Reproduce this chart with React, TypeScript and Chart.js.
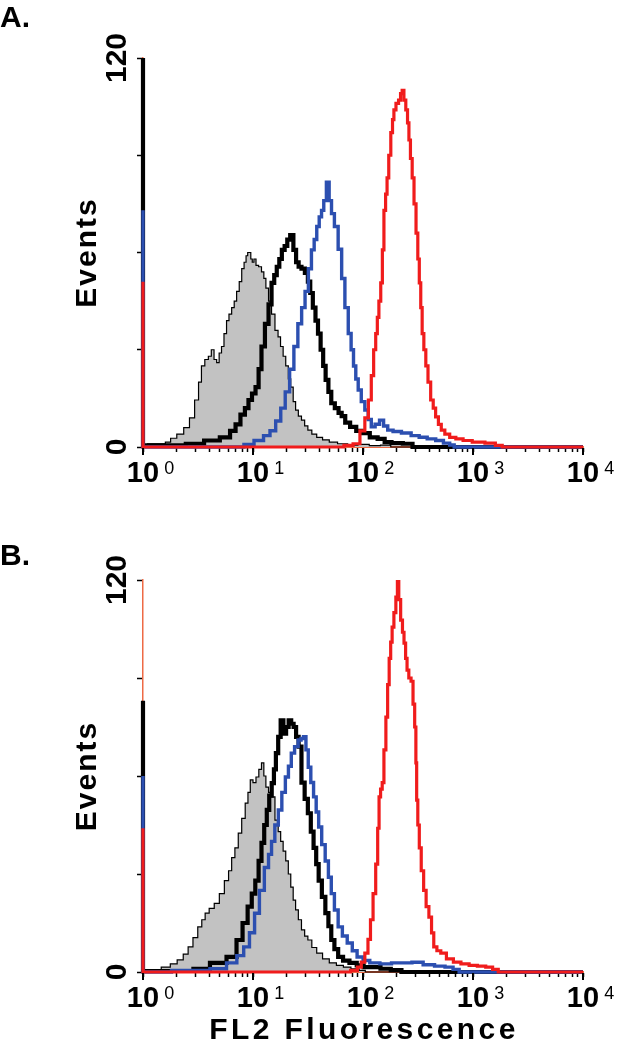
import React, { useEffect, useRef } from "react";
import { Chart, registerables } from "chart.js";

Chart.register(...registerables);

type Pt = [number, number];

// ---- axes / labels ----
const X_TICKS = [
  1, 2, 3, 4, 5, 6, 7, 8, 9,
  10, 20, 30, 40, 50, 60, 70, 80, 90,
  100, 200, 300, 400, 500, 600, 700, 800, 900,
  1000, 2000, 3000, 4000, 5000, 6000, 7000, 8000, 9000,
  10000,
];
const X_LABEL_EXPONENTS = [0, 1, 2, 3, 4];
const Y_TICKS = [0, 30, 60, 90, 120];
const Y_LABELS = [0, 120];
const Y_TITLE = "Events";
const X_TITLE = "FL2 Fluorescence";
const PANEL_LETTERS = ["A.", "B."];

// ---- Panel A histograms: [FL2 value, events] ----
const A_GRAY: Pt[] = [
  [1, 0.5], [1.2, 1], [1.5, 1], [1.7, 1.5], [1.87, 2.7], [2.2, 4], [2.5, 6], [2.8, 9], [3.1, 14.5], [3.3, 20],
  [3.5, 25], [3.8, 27], [4.06, 28], [4.3, 30], [4.55, 27], [4.8, 26], [5.05, 29], [5.3, 31], [5.6, 35], [5.9, 39],
  [6.2, 41], [6.6, 43], [6.9, 45], [7.3, 48], [7.7, 51], [8.1, 55], [8.5, 57], [8.8, 59], [9.1, 60], [9.4, 60],
  [9.7, 58], [10, 57], [10.4, 58], [10.9, 56], [11.6, 55.6], [12.3, 54], [12.8, 52], [13.4, 49], [14.3, 45], [15.2, 41],
  [16.5, 36], [17.3, 34], [18.3, 31], [19.3, 28], [20.4, 25], [21.5, 21], [22.6, 18.5], [23.8, 14], [25, 11.4], [26.7, 9.5],
  [28.5, 8.3], [30.5, 6.5], [32.6, 5.2], [36, 4], [40, 3], [46, 2.2], [53, 1.5], [65, 1], [81, 0.6], [100, 0.8],
  [130, 0.4], [160, 0.6], [200, 0], [10000, 0],
];
const A_BLACK: Pt[] = [
  [1, 300], [1, 0.5], [2, 0.5], [3, 1], [4.3, 2], [5.8, 3], [6.6, 5], [7.3, 7], [8.1, 10], [8.8, 12],
  [9.4, 14.5], [10.2, 16.5], [10.9, 18.5], [11.6, 24], [12.3, 31], [13.4, 38], [14.3, 44], [15.2, 50.6], [16, 53], [16.9, 55.6],
  [17.8, 58], [18.8, 60.8], [20, 62], [21, 64], [22.6, 65.4], [24, 60.8], [25.3, 57], [26.7, 55.6], [28.5, 55], [30.8, 53.7],
  [32.3, 51], [34, 47.5], [36, 43], [38, 39], [40, 35], [42.4, 30], [44.5, 25], [47, 20.7], [50, 17], [53, 13.5],
  [58, 12], [62, 10.5], [66, 9.5], [72, 7.5], [81, 6.2], [93, 5], [108, 4.3], [123, 3], [150, 2.5], [165, 1.5],
  [200, 1.2], [265, 1], [300, 0], [10000, 0],
];
const A_BLUE: Pt[] = [
  [1, 73], [1, 0], [7.6, 0], [9, 0.8], [11.6, 2], [13.4, 3.5], [15.2, 5], [17, 8], [18.8, 12], [20.5, 17],
  [22.6, 24], [24.5, 31], [26.7, 38], [28.7, 43], [30.8, 48], [33, 55], [35, 60.8], [37, 64], [39, 68], [41, 71],
  [43, 73], [45, 76], [48, 81.7], [50.5, 76], [53, 72], [57, 68], [62, 61], [66, 52], [71, 43], [76, 35],
  [80, 30], [84, 25], [88, 21], [93, 17.6], [100, 14], [108, 11.4], [115, 8.5], [123, 6.2], [135, 7], [148, 8.3],
  [160, 6.5], [176, 5.2], [200, 4.8], [250, 4.3], [300, 3.5], [350, 3], [420, 2.5], [500, 2], [580, 1.2], [650, 0.6],
  [700, 0], [10000, 0],
];
const A_RED: Pt[] = [
  [1, 51], [1, 0], [60, 0], [75, 0.5], [88, 1], [100, 5], [108, 9], [116, 14.5], [122, 22], [128, 30],
  [133, 35], [137, 40], [142, 45], [148, 50.6], [152, 60.8], [158, 73], [163, 78], [168, 83], [175, 90], [183, 97],
  [188, 101], [194, 104], [205, 106], [216, 107], [223, 109], [231, 110], [240, 107], [250, 104], [258, 100], [265, 94.7],
  [275, 89], [285, 83], [297, 75], [310, 66], [320, 58], [330, 50.6], [340, 43], [350, 35], [365, 30], [380, 25],
  [400, 20], [425, 14.5], [445, 12], [470, 9.3], [500, 7], [530, 5.2], [580, 4], [650, 3], [750, 2.5], [880, 2],
  [1100, 1.5], [1500, 1.2], [1700, 0.5], [2000, 0], [10000, 0],
];

// ---- Panel B histograms ----
const B_GRAY: Pt[] = [
  [1, 0.5], [1.3, 0.5], [1.65, 1.5], [1.9, 2.5], [2.2, 3.7], [2.45, 5.5], [2.7, 7.7], [3, 10.5], [3.3, 13.8], [3.55, 16],
  [3.8, 18], [4.2, 19.5], [4.7, 21], [5.2, 24], [5.8, 28], [6.2, 31], [6.6, 35], [7.1, 38], [7.6, 42.5], [8.2, 47],
  [8.8, 51.7], [9.2, 55], [9.7, 58.8], [10.3, 58], [11, 59.7], [11.6, 62], [12.3, 64], [12.8, 60], [13.4, 56.6], [14.3, 55],
  [15.2, 53.6], [16.5, 46.5], [17.4, 43], [18.3, 40], [19.3, 37], [20.4, 34], [21.5, 30], [22.6, 26], [23.8, 22], [25, 19],
  [26.7, 16], [28.5, 12.9], [30.5, 11], [32.6, 9.8], [36, 7.5], [40, 5.8], [46, 4], [53, 2.8], [62, 2], [71, 1.5],
  [85, 1], [100, 0.5], [110, 0], [10000, 0],
];
const B_BLACK: Pt[] = [
  [1, 83], [1, 0.3], [2.5, 0.3], [3.3, 1], [5, 2.8], [6.6, 4.6], [7.6, 9.8], [8.5, 15], [9.4, 20], [10.1, 24],
  [10.9, 28], [11.6, 34], [12.3, 39.5], [13, 45], [13.7, 49.6], [14.4, 54], [15.2, 57.8], [15.8, 62], [16.5, 67], [17.4, 72],
  [18.3, 77], [19.5, 73], [20.5, 75], [21.7, 77], [22.8, 76], [24, 75], [25.3, 72], [26.7, 69], [28.5, 58], [30.5, 53],
  [32.6, 48.6], [34.5, 43], [36.6, 38], [38.5, 33], [40.6, 28], [44, 23], [47, 18], [50, 14], [53, 9.8], [57, 7],
  [62, 4.6], [70, 3.5], [81, 2.8], [95, 2], [108, 1.5], [130, 1.5], [160, 1], [200, 0.6], [250, 0], [10000, 0],
];
const B_BLUE: Pt[] = [
  [1, 60], [1, 0], [3.3, 0.5], [5, 1], [6.6, 2.8], [7.7, 5], [8.8, 7.7], [9.8, 12], [10.9, 18], [12, 25],
  [13.4, 32], [14.3, 36], [15.2, 40], [16.4, 45], [17.6, 49.6], [19, 55], [20.4, 59.7], [21.6, 63], [23, 67], [24.8, 69],
  [26.7, 71], [28, 71.5], [29.6, 72], [31, 68], [32.6, 62.7], [34.5, 58], [36.6, 53.6], [38.5, 49], [40.6, 44.4], [43.7, 39],
  [47, 34], [50, 29], [53, 24], [57, 19], [62, 13.8], [68, 11], [76, 8.9], [84, 6.5], [93, 4.6], [108, 3.5],
  [123, 2.8], [165, 2.5], [200, 2.8], [250, 2.8], [310, 3], [400, 2.2], [500, 1.8], [620, 1.5], [700, 0.8], [800, 0],
  [10000, 0],
];
const B_RED: Pt[] = [
  [1, 44], [1, 0], [70, 0], [85, 0.5], [93, 1.5], [100, 3], [108, 5.8], [114, 10], [120, 16], [127, 24],
  [134, 33], [138, 44], [142, 53.6], [147, 56], [152, 58], [158, 68], [165, 78], [170, 88], [176, 96], [181, 101],
  [187, 105.6], [195, 110], [203, 114.8], [208, 120], [215, 114], [225, 107.7], [232, 104], [240, 100.7], [248, 96], [255, 92.4],
  [267, 90], [280, 89], [290, 82], [300, 75], [305, 64], [310, 52.6], [320, 45], [330, 38], [347, 31], [365, 25],
  [385, 20], [410, 16.8], [430, 12], [450, 7.7], [490, 6.5], [530, 5.8], [620, 4], [710, 3], [850, 2.5], [1000, 2],
  [1200, 1.8], [1420, 1.5], [1600, 0.8], [1800, 0], [10000, 0],
];

const COLORS = {
  red: "#f01c1c",
  blue: "#2c4fb0",
  black: "#000000",
  gray: "#c2c2c2",
  axis: "#ee6a45",
};
const FONT = '"Liberation Sans", Arial, sans-serif';

function toPoints(p: Pt[]) {
  return p.map(([x, y]) => ({ x, y }));
}

function buildDatasets(red: Pt[], blue: Pt[], black: Pt[], gray: Pt[]) {
  const base = {
    stepped: "middle" as const,
    pointRadius: 0,
    tension: 0,
    clip: { left: 5, top: 0, right: 2, bottom: 4 },
  };
  return [
    { ...base, label: "red", data: toPoints(red), borderColor: COLORS.red, borderWidth: 3.2, fill: false },
    { ...base, label: "blue", data: toPoints(blue), borderColor: COLORS.blue, borderWidth: 3.4, fill: false },
    { ...base, label: "black", data: toPoints(black), borderColor: COLORS.black, borderWidth: 4.2, fill: false },
    {
      ...base,
      label: "gray",
      data: toPoints(gray),
      borderColor: COLORS.black,
      borderWidth: 1.2,
      backgroundColor: COLORS.gray,
      fill: "origin",
    },
  ];
}

function decorPlugin(letter: string, letterBaseline: number, showXTitle: boolean) {
  return {
    id: "decor",
    afterDraw(chart: any) {
      const { ctx, chartArea: ca, scales } = chart;
      const xs = scales.x;
      const ys = scales.y;
      ctx.save();
      ctx.fillStyle = "#000";
      ctx.strokeStyle = "#000";

      // longer major ticks
      ctx.lineWidth = 2;
      for (const e of X_LABEL_EXPONENTS) {
        const px = xs.getPixelForValue(Math.pow(10, e));
        ctx.beginPath();
        ctx.moveTo(px, ca.bottom + 1);
        ctx.lineTo(px, ca.bottom + 8);
        ctx.stroke();
      }

      // x tick labels 10^n
      for (const e of X_LABEL_EXPONENTS) {
        const px = xs.getPixelForValue(Math.pow(10, e));
        ctx.font = `bold 29px ${FONT}`;
        ctx.textAlign = "center";
        ctx.textBaseline = "alphabetic";
        ctx.fillText("10", px, ca.bottom + 35);
        const w = ctx.measureText("10").width;
        ctx.font = `18px ${FONT}`;
        ctx.textAlign = "left";
        ctx.fillText(String(e), px + w / 2 + 5, ca.bottom + 27);
      }

      // y tick labels (rotated)
      ctx.font = `bold 30px ${FONT}`;
      for (const v of Y_LABELS) {
        const py = ys.getPixelForValue(v);
        ctx.save();
        ctx.translate(ca.left - 17, py);
        ctx.rotate(-Math.PI / 2);
        ctx.textAlign = "center";
        ctx.textBaseline = "alphabetic";
        ctx.fillText(String(v), 0, 0);
        ctx.restore();
      }

      // y title
      ctx.save();
      ctx.font = `bold 30px ${FONT}`;
      (ctx as any).letterSpacing = "2px";
      ctx.translate(ca.left - 47, (ca.top + ca.bottom) / 2);
      ctx.rotate(-Math.PI / 2);
      ctx.textAlign = "center";
      ctx.textBaseline = "alphabetic";
      ctx.fillText(Y_TITLE, 0, 0);
      ctx.restore();

      // x title
      if (showXTitle) {
        ctx.save();
        ctx.font = `bold 30px ${FONT}`;
        (ctx as any).letterSpacing = "3.4px";
        ctx.textAlign = "center";
        ctx.textBaseline = "alphabetic";
        ctx.fillText(X_TITLE, (ca.left + ca.right) / 2 + 1, ca.bottom + 67);
        ctx.restore();
      }

      // panel letter
      ctx.font = `bold 30px ${FONT}`;
      ctx.textAlign = "left";
      ctx.textBaseline = "alphabetic";
      ctx.fillText(letter, 0, letterBaseline);

      ctx.restore();
    },
  };
}

function makeConfig(
  datasets: any[],
  padTop: number,
  xAxisHeight: number,
  letter: string,
  letterBaseline: number,
  showXTitle: boolean
): any {
  const gridCommon = {
    display: true,
    drawOnChartArea: false,
    drawTicks: true,
    color: "#000",
    tickColor: "#000",
    tickWidth: 1.5,
  };
  return {
    type: "line",
    data: { datasets },
    plugins: [decorPlugin(letter, letterBaseline, showXTitle)],
    options: {
      animation: false,
      responsive: false,
      devicePixelRatio: 1,
      events: [],
      layout: { padding: { top: padTop, right: 39, left: 0, bottom: 0 } },
      plugins: { legend: { display: false }, tooltip: { enabled: false } },
      scales: {
        x: {
          type: "logarithmic",
          min: 1,
          max: 10000,
          afterBuildTicks: (s: any) => {
            s.ticks = X_TICKS.map((v) => ({ value: v }));
          },
          afterFit: (s: any) => {
            s.height = xAxisHeight;
          },
          grid: { ...gridCommon, tickLength: 5 },
          border: { display: true, color: COLORS.axis, width: 2 },
          ticks: { display: false },
        },
        y: {
          type: "linear",
          min: 0,
          max: 120,
          afterBuildTicks: (s: any) => {
            s.ticks = Y_TICKS.map((v) => ({ value: v }));
          },
          afterFit: (s: any) => {
            s.width = 143;
          },
          grid: { ...gridCommon, tickLength: 6 },
          border: { display: true, color: COLORS.axis, width: 1.5 },
          ticks: { display: false },
        },
      },
    },
  };
}

export default function App() {
  const refA = useRef<HTMLCanvasElement>(null);
  const refB = useRef<HTMLCanvasElement>(null);

  useEffect(() => {
    const a = new Chart(
      refA.current as HTMLCanvasElement,
      makeConfig(buildDatasets(A_RED, A_BLUE, A_BLACK, A_GRAY), 58, 73, PANEL_LETTERS[0], 27, false)
    );
    const b = new Chart(
      refB.current as HTMLCanvasElement,
      makeConfig(buildDatasets(B_RED, B_BLUE, B_BLACK, B_GRAY), 55, 78, PANEL_LETTERS[1], 40, true)
    );
    return () => {
      a.destroy();
      b.destroy();
    };
  }, []);

  return (
    <div style={{ position: "absolute", left: 0, top: 0, width: 622, height: 1050, background: "#fff" }}>
      <canvas ref={refA} width={622} height={520} style={{ position: "absolute", left: 0, top: 0 }} />
      <canvas ref={refB} width={622} height={525} style={{ position: "absolute", left: 0, top: 525 }} />
    </div>
  );
}
